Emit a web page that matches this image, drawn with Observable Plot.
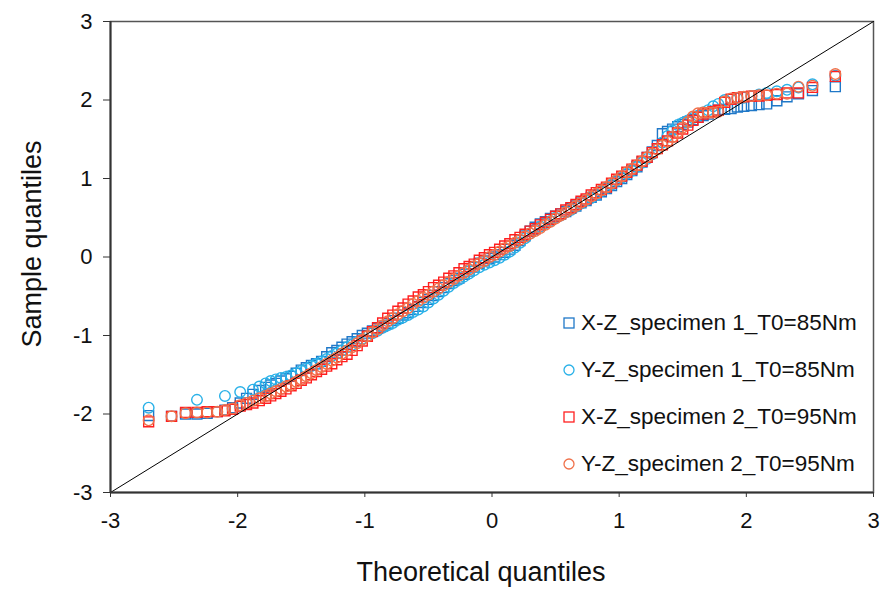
<!DOCTYPE html>
<html>
<head>
<meta charset="utf-8">
<script src="https://cdn.jsdelivr.net/npm/d3@7"></script>
<script src="https://cdn.jsdelivr.net/npm/@observablehq/plot@0.6"></script>
<style>
  html, body { margin: 0; padding: 0; background: #fff; }
  #wrap { position: relative; width: 882px; height: 590px; font-family: "Liberation Sans", Arial, sans-serif; }
  #legend { position: absolute; left: 562px; top: 299px; }
  .row { display: flex; align-items: center; height: 47px; font-size: 22.5px; color: #111; white-space: nowrap; }
  .row svg { margin-right: 5px; }
</style>
</head>
<body>
<div id="wrap"></div>
<script>
// Theoretical quantiles (shared x positions)
const theoretical = [
  -2.70, -2.52, -2.41, -2.32, -2.24, -2.16, -2.10, -2.04, -1.98, -1.93, -1.88, -1.83, -1.78, -1.74, -1.70, -1.66, -1.62,
  -1.58, -1.54, -1.50, -1.46, -1.42, -1.38, -1.34, -1.30, -1.26, -1.22,
  -1.18, -1.14, -1.10, -1.06, -1.02, -0.98, -0.94, -0.90, -0.86, -0.82,
  -0.78, -0.74, -0.70, -0.66, -0.62, -0.58, -0.54, -0.50, -0.46, -0.42,
  -0.38, -0.34, -0.30, -0.26, -0.22, -0.18, -0.14, -0.10, -0.06, -0.02,
  0.02, 0.06, 0.10, 0.14, 0.18, 0.22, 0.26, 0.30, 0.34, 0.38,
  0.42, 0.46, 0.50, 0.54, 0.58, 0.62, 0.66, 0.70, 0.74, 0.78,
  0.82, 0.86, 0.90, 0.94, 0.98, 1.02, 1.06, 1.10, 1.14, 1.18,
  1.22, 1.26, 1.30, 1.34, 1.38, 1.42, 1.46, 1.50, 1.54, 1.58,
  1.62, 1.66, 1.70, 1.74, 1.78, 1.83, 1.88, 1.93, 1.98, 2.04, 2.10, 2.16, 2.24, 2.32, 2.41, 2.52, 2.70
];
// Sample quantiles, X-Z specimen 1 (T0=85Nm) — squares
const xzSpec1 = [
  -2.02, -2.03, -2.00, -2.00, -1.99, -1.97, -1.95, -1.92, -1.86, -1.80, -1.75, -1.70, -1.66, -1.63, -1.61, -1.58, -1.55,
  -1.52, -1.48, -1.44, -1.41, -1.38, -1.36, -1.33, -1.27, -1.22, -1.19,
  -1.15, -1.11, -1.08, -1.04, -1.00, -0.97, -0.94, -0.91, -0.88, -0.85,
  -0.81, -0.78, -0.74, -0.71, -0.67, -0.63, -0.58, -0.54, -0.49, -0.44,
  -0.39, -0.34, -0.30, -0.27, -0.22, -0.18, -0.13, -0.08, -0.05, -0.02,
  0.00, 0.03, 0.06, 0.10, 0.15, 0.21, 0.27, 0.33, 0.38, 0.42,
  0.45, 0.49, 0.52, 0.55, 0.58, 0.62, 0.65, 0.69, 0.72, 0.76,
  0.79, 0.83, 0.87, 0.91, 0.96, 1.00, 1.05, 1.10, 1.15, 1.21,
  1.27, 1.34, 1.42, 1.57, 1.60, 1.63, 1.66, 1.69, 1.72, 1.75,
  1.78, 1.80, 1.82, 1.85, 1.87, 1.88, 1.89, 1.91, 1.92, 1.93, 1.94, 1.95, 1.99, 2.04, 2.08, 2.12, 2.17
];
// Sample quantiles, Y-Z specimen 1 (T0=85Nm) — circles (null: no point at that quantile)
const yzSpec1 = [
  -1.92, null, null, -1.82, null, null, -1.77, null, -1.72, null, -1.69, -1.65, -1.61, -1.58, -1.56, -1.54, -1.53,
  -1.51, -1.48, -1.45, -1.42, -1.39, -1.36, -1.33, -1.30, -1.26, -1.23,
  -1.19, -1.15, -1.12, -1.08, -1.04, -1.01, -0.97, -0.94, -0.90, -0.87,
  -0.84, -0.80, -0.77, -0.74, -0.70, -0.67, -0.63, -0.58, -0.53, -0.48,
  -0.43, -0.38, -0.33, -0.29, -0.25, -0.21, -0.17, -0.13, -0.10, -0.07,
  -0.04, -0.01, 0.03, 0.07, 0.12, 0.18, 0.24, 0.30, 0.35, 0.39,
  0.43, 0.46, 0.50, 0.53, 0.57, 0.60, 0.64, 0.68, 0.72, 0.75,
  0.79, 0.84, 0.88, 0.92, 0.97, 1.01, 1.06, 1.10, 1.15, 1.20,
  1.25, 1.31, 1.38, 1.46, 1.54, 1.61, 1.68, 1.71, 1.74, 1.77,
  1.80, 1.84, 1.87, 1.92, 1.95, 2.00, 2.01, 2.02, 2.03, 2.05, 2.07, 2.09, 2.11, 2.13, 2.16, 2.20, 2.31
];
// Sample quantiles, X-Z specimen 2 (T0=95Nm) — squares
const xzSpec2 = [
  -2.10, -2.03, -1.98, -1.98, -1.97, -1.97, -1.96, -1.94, -1.90, -1.88, -1.86, -1.83, -1.80, -1.77, -1.74, -1.71, -1.68,
  -1.64, -1.61, -1.57, -1.54, -1.50, -1.46, -1.43, -1.39, -1.36, -1.31,
  -1.27, -1.24, -1.19, -1.13, -1.07, -1.01, -0.95, -0.90, -0.84, -0.78,
  -0.74, -0.69, -0.65, -0.60, -0.56, -0.51, -0.48, -0.44, -0.39, -0.36,
  -0.32, -0.27, -0.24, -0.20, -0.15, -0.12, -0.09, -0.04, -0.01, 0.03,
  0.06, 0.10, 0.14, 0.17, 0.22, 0.25, 0.29, 0.33, 0.36, 0.41,
  0.44, 0.48, 0.52, 0.55, 0.60, 0.63, 0.67, 0.71, 0.74, 0.79,
  0.82, 0.86, 0.89, 0.94, 0.99, 1.03, 1.08, 1.12, 1.17, 1.22,
  1.27, 1.33, 1.38, 1.43, 1.48, 1.53, 1.58, 1.63, 1.68, 1.74,
  1.78, 1.82, 1.84, 1.85, 1.87, 1.97, 2.01, 2.03, 2.04, 2.05, 2.05, 2.06, 2.07, 2.09, 2.09, 2.16, 2.30
];
// Sample quantiles, Y-Z specimen 2 (T0=95Nm) — circles
const yzSpec2 = [
  -2.08, -2.03, -1.99, -1.98, -1.98, -1.97, -1.95, -1.93, -1.89, -1.86, -1.83, -1.80, -1.77, -1.74, -1.71, -1.68, -1.65,
  -1.63, -1.59, -1.56, -1.52, -1.48, -1.44, -1.40, -1.36, -1.32, -1.28,
  -1.23, -1.19, -1.15, -1.10, -1.05, -1.01, -0.96, -0.92, -0.87, -0.82,
  -0.78, -0.73, -0.69, -0.65, -0.60, -0.56, -0.52, -0.48, -0.44, -0.40,
  -0.36, -0.32, -0.28, -0.24, -0.20, -0.16, -0.12, -0.08, -0.05, 0.00,
  0.03, 0.07, 0.11, 0.14, 0.18, 0.22, 0.26, 0.30, 0.33, 0.37,
  0.41, 0.45, 0.49, 0.53, 0.57, 0.61, 0.65, 0.69, 0.73, 0.77,
  0.81, 0.85, 0.89, 0.94, 0.98, 1.03, 1.08, 1.12, 1.17, 1.22,
  1.27, 1.32, 1.37, 1.42, 1.47, 1.53, 1.59, 1.65, 1.72, 1.79,
  1.83, 1.84, 1.84, 1.84, 1.85, 1.98, 2.02, 2.03, 2.04, 2.05, 2.06, 2.06, 2.08, 2.08, 2.17, 2.18, 2.33
];
const seriesNames = [
  "X-Z_specimen 1_T0=85Nm",
  "Y-Z_specimen 1_T0=85Nm",
  "X-Z_specimen 2_T0=95Nm",
  "Y-Z_specimen 2_T0=95Nm"
];
const seriesColors = ["#1f78c8", "#29b1e8", "#ff1f1f", "#f0714a"];
const seriesSymbols = ["square", "circle", "square", "circle"];
const axisTicks = [-3, -2, -1, 0, 1, 2, 3];
const diagonal = [-3, 3];
const xTitle = "Theoretical quantiles";
const yTitle = "Sample quantiles";

const ySeries = [xzSpec1, yzSpec1, xzSpec2, yzSpec2];
const dotMarks = ySeries.map((ys, i) =>
  Plot.dot(theoretical.map((t, j) => ({x: t, y: ys[j]})), {
    x: "x", y: "y",
    symbol: seriesSymbols[i],
    r: seriesSymbols[i] === "square" ? 5.6 : 5.3,
    stroke: seriesColors[i],
    strokeWidth: 1.4,
    fill: "none"
  })
);

const chart = Plot.plot({
  width: 882,
  height: 590,
  marginLeft: 110,
  marginRight: 9,
  marginTop: 21,
  marginBottom: 98,
  style: {fontFamily: "'Liberation Sans', Arial, sans-serif", background: "#fff"},
  x: {domain: [-3, 3]},
  y: {domain: [-3, 3]},
  marks: [
    Plot.frame({stroke: "#555", strokeWidth: 1.5}),
    ...dotMarks,
    Plot.line(diagonal.map(v => ({x: v, y: v})), {x: "x", y: "y", stroke: "#000", strokeWidth: 1}),
    Plot.ruleX([-3], {stroke: "#333", strokeWidth: 2}),
    Plot.ruleY([-3], {stroke: "#333", strokeWidth: 2}),
    Plot.axisX(axisTicks, {tickSize: 5, tickPadding: 15, fontSize: 22, label: null, stroke: "#333", color: "#111", tickFormat: d => String(d)}),
    Plot.axisY(axisTicks, {tickSize: 7, tickPadding: 11, fontSize: 22, label: null, stroke: "#333", color: "#111", tickFormat: d => String(d)}),
    Plot.text([xTitle], {frameAnchor: "bottom", dy: 88, dx: -11, fontSize: 27, fill: "#111", textAnchor: "middle"}),
    Plot.text([yTitle], {frameAnchor: "left", dx: -78, dy: -13, rotate: -90, fontSize: 27, fill: "#111", textAnchor: "middle"})
  ]
});
const wrap = document.getElementById("wrap");
wrap.appendChild(chart);

// Legend inside plot area
const legend = document.createElement("div");
legend.id = "legend";
seriesNames.forEach((name, i) => {
  const row = document.createElement("div");
  row.className = "row";
  const sym = seriesSymbols[i] === "square"
    ? `<rect x="2" y="2" width="10" height="10" fill="none" stroke="${seriesColors[i]}" stroke-width="1.3"/>`
    : `<circle cx="7" cy="7" r="5" fill="none" stroke="${seriesColors[i]}" stroke-width="1.3"/>`;
  row.innerHTML = `<svg width="14" height="14">${sym}</svg><span>${name}</span>`;
  legend.appendChild(row);
});
wrap.appendChild(legend);
</script>
</body>
</html>
